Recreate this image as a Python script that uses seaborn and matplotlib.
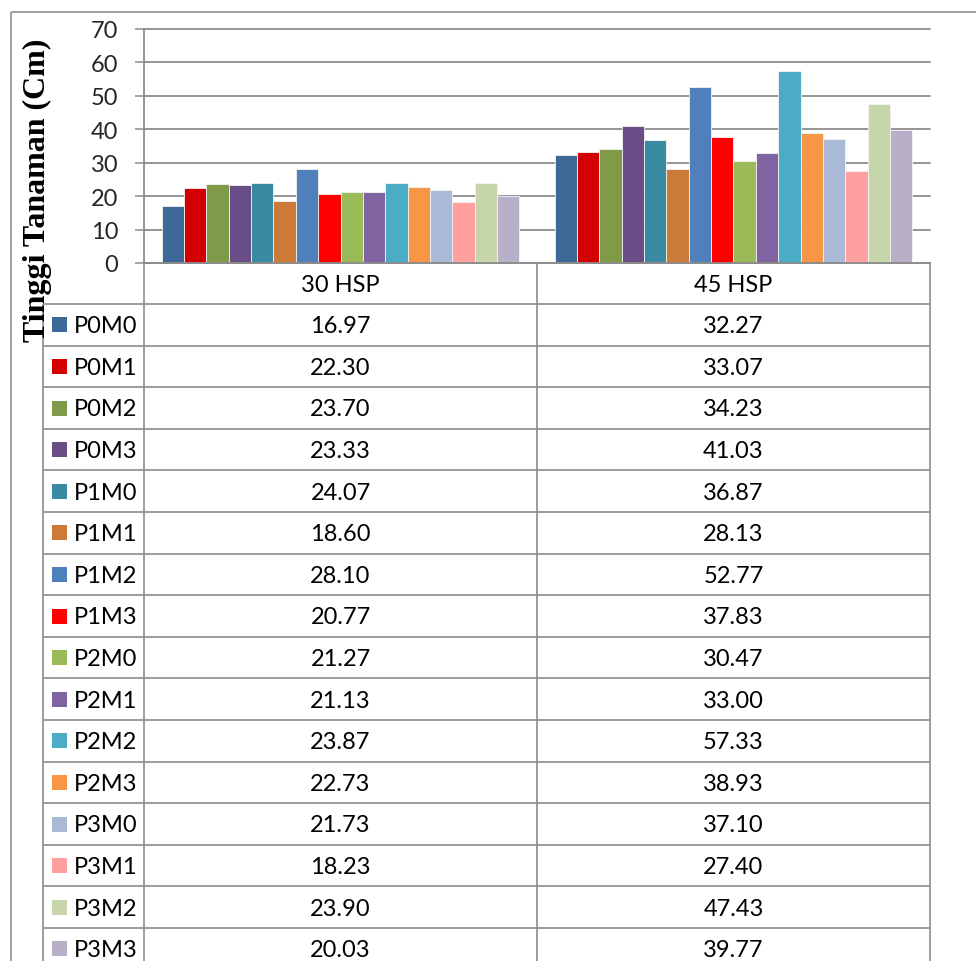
import matplotlib
matplotlib.use("Agg")
import matplotlib.pyplot as plt
import seaborn as sns
import pandas as pd

# ---- data ----
categories = ["30 HSP", "45 HSP"]
treatments = ["P0M0", "P0M1", "P0M2", "P0M3", "P1M0", "P1M1", "P1M2", "P1M3",
              "P2M0", "P2M1", "P2M2", "P2M3", "P3M0", "P3M1", "P3M2", "P3M3"]
hsp30 = [16.97, 22.30, 23.70, 23.33, 24.07, 18.60, 28.10, 20.77,
         21.27, 21.13, 23.87, 22.73, 21.73, 18.23, 23.90, 20.03]
hsp45 = [32.27, 33.07, 34.23, 41.03, 36.87, 28.13, 52.77, 37.83,
         30.47, 33.00, 57.33, 38.93, 37.10, 27.40, 47.43, 39.77]
colors = ["#3E6897", "#D20000", "#7F9A48", "#694D86", "#3A8BA2", "#CC7A38",
          "#4F80BC", "#FF0000", "#9BBB59", "#8064A2", "#4BACC6", "#F79646",
          "#AAB9D6", "#FFA0A0", "#C6D6AA", "#B8AFC8"]
yticks = [0, 10, 20, 30, 40, 50, 60, 70]
ylabel = "Tinggi Tanaman (Cm)"

rows = []
for t, a, b in zip(treatments, hsp30, hsp45):
    rows.append({"waktu": categories[0], "perlakuan": t, "tinggi": a})
    rows.append({"waktu": categories[1], "perlakuan": t, "tinggi": b})
df = pd.DataFrame(rows)

sns.set_theme(style="white")
plt.rcParams["font.family"] = ["Lato", "DejaVu Sans"]

W, H = 976, 962
fig = plt.figure(figsize=(W / 100, H / 100), dpi=100)

# layout in pixels
PL, PR, PT, PB = 144, 930, 30, 264     # plot area
COL_MID = (PL + PR) / 2
LEG_L = 43
HDR_B = 305
ROW_H = 41.6
GRID = "#8c8c8c"
FONT = 17

# overlay axes in pixel coordinates for the frame and data table
ov = fig.add_axes([0, 0, 1, 1])
ov.set_xlim(0, W)
ov.set_ylim(H, 0)
ov.axis("off")

# outer chart frame
ov.plot([11, W + 5], [13, 13], color="#9a9a9a", lw=1.3, solid_capstyle="butt")
ov.plot([11, 11], [13, H + 5], color="#9a9a9a", lw=1.3, solid_capstyle="butt")

# table grid
lw = 1.2
for x in (PL, COL_MID, PR):
    ov.plot([x, x], [PB, H + 5], color=GRID, lw=lw, solid_capstyle="butt")
ov.plot([LEG_L, LEG_L], [HDR_B, H + 5], color=GRID, lw=lw, solid_capstyle="butt")
for i in range(len(treatments) + 1):
    y = HDR_B + i * ROW_H
    ov.plot([LEG_L, PR], [y, y], color=GRID, lw=lw, solid_capstyle="butt")

# header
centers = [(PL + COL_MID) / 2, (COL_MID + PR) / 2]
for cx, cat in zip(centers, categories):
    ov.text(cx, (PB + HDR_B) / 2 + 1, cat, ha="center", va="center",
            fontsize=FONT, color="black")

# rows: legend key, label and values
for i, (t, c, a, b) in enumerate(zip(treatments, colors, hsp30, hsp45)):
    yc = HDR_B + (i + 0.5) * ROW_H
    ov.add_patch(plt.Rectangle((52, yc - 7.5), 15, 15, facecolor=c,
                               edgecolor="none"))
    ov.text(74, yc + 1, t, ha="left", va="center", fontsize=FONT, color="black")
    ov.text(centers[0], yc + 1, f"{a:.2f}", ha="center", va="center",
            fontsize=FONT, color="black")
    ov.text(centers[1], yc + 1, f"{b:.2f}", ha="center", va="center",
            fontsize=FONT, color="black")

# y axis title
ov.text(37, 190, ylabel, rotation=90, ha="center", va="center",
        fontsize=23, fontweight="bold", family="Liberation Serif", color="black")

# bar chart
ax = fig.add_axes([PL / W, 1 - PB / H, (PR - PL) / W, (PB - PT) / H])
ax.patch.set_alpha(0)
sns.barplot(data=df, x="waktu", y="tinggi", hue="perlakuan",
            hue_order=treatments, order=categories, palette=colors,
            saturation=1, width=0.91, gap=0, dodge=True, legend=False,
            edgecolor="#f4f4f4", linewidth=0.6, errorbar=None, ax=ax)
ax.set_xlim(-0.5, 1.5)
ax.set_ylim(0, 70)
ax.set_yticks(yticks)
ax.set_yticklabels([str(v) for v in yticks], fontsize=FONT)
ax.set_xticks([])
ax.set_xlabel("")
ax.set_ylabel("")
ax.yaxis.grid(True, color=GRID, lw=1.3)
for gl in ax.get_ygridlines():
    gl.set_clip_on(False)
ax.set_axisbelow(True)
ax.tick_params(axis="y", length=6.5, width=1.1, color=GRID, pad=12,
               left=True, direction="out")
for s in ("top", "right"):
    ax.spines[s].set_visible(False)
for s in ("left", "bottom"):
    ax.spines[s].set_color(GRID)
    ax.spines[s].set_linewidth(1.3)

fig.savefig("out.png", dpi=100, facecolor="white")
